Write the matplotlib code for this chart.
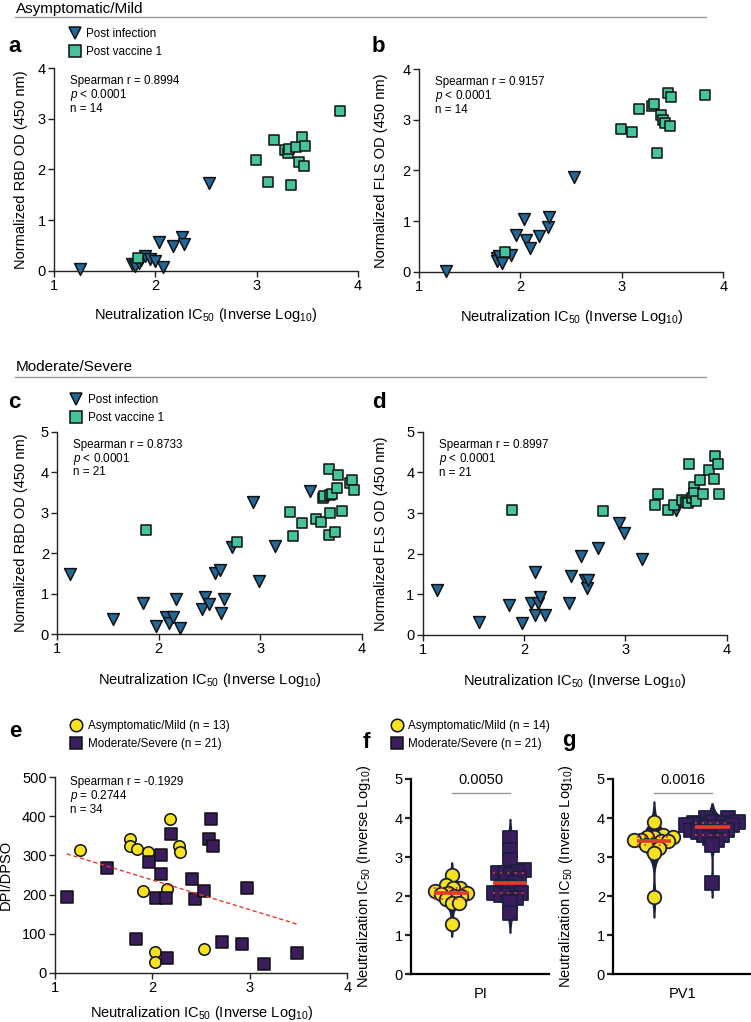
import numpy as np
import matplotlib
matplotlib.use("Agg")
import matplotlib.pyplot as plt
from matplotlib.lines import Line2D

plt.rcParams['font.family'] = ['Liberation Sans', 'DejaVu Sans']
plt.rcParams['mathtext.fontset'] = 'custom'
plt.rcParams['mathtext.rm'] = 'Liberation Sans'
plt.rcParams['mathtext.it'] = 'Liberation Sans:italic'
plt.rcParams['mathtext.bf'] = 'Liberation Sans:bold'
plt.rcParams['mathtext.default'] = 'regular'

# ---- data ----
a_inf_x = [1.26, 1.77, 1.80, 1.84, 1.86, 1.90, 1.95, 2.00, 2.04, 2.08, 2.17, 2.26, 2.28, 2.53]
a_inf_y = [0.03, 0.13, 0.10, 0.16, 0.22, 0.29, 0.24, 0.20, 0.56, 0.08, 0.49, 0.66, 0.53, 1.74]
a_vac_x = [1.83, 2.99, 3.11, 3.17, 3.28, 3.31, 3.32, 3.34, 3.39, 3.42, 3.45, 3.47, 3.48, 3.82]
a_vac_y = [0.26, 2.18, 1.76, 2.58, 2.38, 2.32, 2.41, 1.69, 2.45, 2.15, 2.63, 2.06, 2.46, 3.16]

b_inf_x = [1.27, 1.77, 1.77, 1.79, 1.82, 1.91, 1.96, 2.04, 2.05, 2.09, 2.18, 2.27, 2.28, 2.53]
b_inf_y = [0.02, 0.28, 0.22, 0.32, 0.18, 0.33, 0.73, 1.05, 0.63, 0.47, 0.71, 0.88, 1.08, 1.87]
b_vac_x = [1.85, 2.99, 3.10, 3.17, 3.30, 3.32, 3.35, 3.39, 3.41, 3.43, 3.45, 3.47, 3.48, 3.82]
b_vac_y = [0.38, 2.83, 2.77, 3.22, 3.28, 3.32, 2.34, 3.09, 3.00, 2.94, 3.53, 2.88, 3.45, 3.50]

c_inf_x = [1.13, 1.55, 1.84, 1.97, 2.07, 2.10, 2.14, 2.17, 2.21, 2.43, 2.46, 2.50, 2.55, 2.60, 2.61,
           2.64, 2.72, 2.93, 2.99, 3.15, 3.49]
c_inf_y = [1.48, 0.36, 0.76, 0.20, 0.41, 0.28, 0.41, 0.86, 0.16, 0.61, 0.92, 0.75, 1.51, 1.58, 0.51,
           0.86, 2.14, 3.27, 1.31, 2.18, 3.54]
c_vac_x = [1.87, 2.77, 3.29, 3.32, 3.41, 3.55, 3.60, 3.62, 3.63, 3.68, 3.68, 3.69, 3.69, 3.71, 3.74,
           3.76, 3.77, 3.81, 3.88, 3.90, 3.92]
c_vac_y = [2.58, 2.28, 3.01, 2.42, 2.74, 2.83, 2.77, 3.35, 3.40, 4.09, 2.45, 3.43, 2.98, 3.45, 2.53,
           3.61, 3.94, 3.05, 3.72, 3.80, 3.56]

d_inf_x = [1.14, 1.56, 1.85, 1.98, 2.07, 2.11, 2.11, 2.14, 2.16, 2.21, 2.44, 2.46, 2.56, 2.60, 2.62,
           2.63, 2.73, 2.94, 2.99, 3.16, 3.50]
d_inf_y = [1.10, 0.33, 0.74, 0.29, 0.79, 1.56, 0.49, 0.79, 0.94, 0.49, 0.78, 1.45, 1.95, 1.35, 1.15,
           1.36, 2.15, 2.76, 2.50, 1.87, 3.08]
d_vac_x = [1.88, 2.78, 3.29, 3.32, 3.42, 3.48, 3.56, 3.60, 3.62, 3.63, 3.66, 3.68, 3.68, 3.70, 3.74,
           3.77, 3.83, 3.87, 3.88, 3.91, 3.92]
d_vac_y = [3.08, 3.06, 3.19, 3.47, 3.08, 3.20, 3.33, 3.28, 3.25, 4.21, 3.36, 3.65, 3.49, 3.30, 3.80,
           3.46, 4.06, 3.84, 4.40, 4.21, 3.47]

e_mild_x = [1.26, 1.77, 1.77, 1.84, 1.90, 1.95, 2.03, 2.03, 2.15, 2.18, 2.27, 2.28, 2.53]
e_mild_y = [314, 341, 325, 316, 209, 308, 54, 28, 214, 393, 325, 308, 61]
e_sev_x = [1.12, 1.53, 1.83, 1.96, 2.04, 2.09, 2.09, 2.14, 2.15, 2.19, 2.41, 2.44, 2.53, 2.58, 2.60,
           2.62, 2.71, 2.92, 2.97, 3.14, 3.48]
e_sev_y = [193, 269, 85, 284, 192, 301, 252, 192, 37, 355, 241, 188, 210, 341, 393,
           325, 79, 73, 216, 21, 50]

f_mild = [2.53, 2.28, 2.22, 2.22, 2.13, 2.09, 2.09, 2.05, 2.00, 2.00, 1.92, 1.83, 1.83, 1.30]
f_sev = [3.48, 3.18, 2.93, 2.67, 2.63, 2.59, 2.59, 2.54, 2.46, 2.41, 2.33, 2.24, 2.24, 2.12, 2.07,
         2.07, 2.03, 2.03, 1.95, 1.86, 1.56]
g_mild = [3.91, 3.57, 3.52, 3.52, 3.52, 3.44, 3.44, 3.40, 3.40, 3.31, 3.31, 3.23, 3.10, 1.97]
g_sev = [3.99, 3.99, 3.91, 3.91, 3.87, 3.87, 3.82, 3.82, 3.82, 3.78, 3.78, 3.69, 3.69, 3.65, 3.65,
         3.57, 3.57, 3.48, 3.44, 3.31, 2.35]

stats_ab = ["0.8994", "0.9157"]
stats_cd = ["0.8733", "0.8997"]
pvals_fg = ["0.0050", "0.0016"]
xcats_fg = ["PI", "PV1"]

# ---- styles ----
TRI = '#22699a'
GRN = '#45c39c'
YEL = '#f7e21f'
PUR = '#3b1c5c'
NAVY = '#1b2040'
RED = '#e8392b'
W, H = 751, 1022
XLAB = r'Neutralization IC$_{50}$ (Inverse Log$_{10}$)'
SMALL = 8.4
TICK = 10.5

fig = plt.figure(figsize=(W / 100, H / 100), dpi=100)


def rect(l, r, t, b):
    return [l / W, 1 - b / H, (r - l) / W, (b - t) / H]


def style(ax, lw=1.0):
    for s in ['top', 'right']:
        ax.spines[s].set_visible(False)
    for s in ['left', 'bottom']:
        ax.spines[s].set_linewidth(lw)
        ax.spines[s].set_color('#222222')
    ax.tick_params(labelsize=TICK, length=4, width=lw, pad=2, color='#222222')


def stats(ax, r, p, n, y0=0.935, step=0.068, x0=0.053):
    ax.text(x0, y0, 'Spearman r = ' + r, transform=ax.transAxes, fontsize=SMALL, va='center')
    ax.text(x0, y0 - step, r'$\mathit{p}$ ' + p, transform=ax.transAxes, fontsize=SMALL, va='center')
    ax.text(x0, y0 - 2 * step, 'n = ' + n, transform=ax.transAxes, fontsize=SMALL, va='center')


def corr_panel(r_, xi, yi, xv, yv, ymax, ylab, rtxt, ntxt, xlab_y, ylab_x):
    ax = fig.add_axes(rect(*r_))
    ax.scatter(xi, yi, marker='v', s=72, c=TRI, edgecolors='#111111', linewidths=1.1,
               clip_on=False, zorder=3)
    ax.scatter(xv, yv, marker='s', s=60, c=GRN, edgecolors='#111111', linewidths=1.1,
               clip_on=False, zorder=3)
    ax.set_xlim(1, 4)
    ax.set_ylim(0, ymax)
    ax.set_xticks([1, 2, 3, 4])
    ax.set_yticks(range(0, ymax + 1))
    style(ax)
    ax.set_xlabel(XLAB, fontsize=TICK)
    ax.set_ylabel(ylab, fontsize=TICK)
    ax.xaxis.set_label_coords(0.5, xlab_y)
    ax.yaxis.set_label_coords(ylab_x, 0.5)
    stats(ax, rtxt, '< 0.0001', ntxt)
    return ax


def legend(handles, labels, x, y):
    fig.legend(handles, labels, loc='upper left', bbox_to_anchor=(x / W, 1 - y / H),
               frameon=False, fontsize=SMALL, borderpad=0, borderaxespad=0,
               handlelength=1.0, handletextpad=0.5, labelspacing=0.55)


ax_a = corr_panel((54, 358, 68, 270.7), a_inf_x, a_inf_y, a_vac_x, a_vac_y, 4,
                  'Normalized RBD OD (450 nm)', stats_ab[0], '14', -0.175, -0.086)
ax_b = corr_panel((419, 723.3, 69.3, 271.7), b_inf_x, b_inf_y, b_vac_x, b_vac_y, 4,
                  'Normalized FLS OD (450 nm)', stats_ab[1], '14', -0.178, -0.102)
ax_c = corr_panel((57.3, 361.7, 431.7, 634), c_inf_x, c_inf_y, c_vac_x, c_vac_y, 5,
                  'Normalized RBD OD (450 nm)', stats_cd[0], '21', -0.183, -0.096)
ax_d = corr_panel((422.7, 726.7, 431.7, 635), d_inf_x, d_inf_y, d_vac_x, d_vac_y, 5,
                  'Normalized FLS OD (450 nm)', stats_cd[1], '21', -0.183, -0.114)

h_inf = Line2D([], [], marker='v', ls='', ms=9, mfc=TRI, mec='#111111', mew=1.1)
h_vac = Line2D([], [], marker='s', ls='', ms=8, mfc=GRN, mec='#111111', mew=1.1)
legend([h_inf, h_vac], ['Post infection', 'Post vaccine 1'], 69, 28)
legend([h_inf, h_vac], ['Post infection', 'Post vaccine 1'], 70, 394)

# ---- panel e ----
ax_e = fig.add_axes(rect(55, 347.3, 777.3, 972.7))
ax_e.scatter(e_mild_x, e_mild_y, marker='o', s=68, c=YEL, edgecolors='#111111', linewidths=1.1,
             clip_on=False, zorder=3)
ax_e.scatter(e_sev_x, e_sev_y, marker='s', s=66, c=PUR, edgecolors='#111111', linewidths=1.1,
             clip_on=False, zorder=3)
all_x = np.array(e_mild_x + e_sev_x)
all_y = np.array(e_mild_y + e_sev_y)
k, b0 = np.polyfit(all_x, all_y, 1)
xx = np.array([all_x.min(), all_x.max()])
ax_e.plot(xx, k * xx + b0, color=RED, lw=1.0, dashes=(3, 2), zorder=4)
ax_e.set_xlim(1, 4)
ax_e.set_ylim(0, 500)
ax_e.set_xticks([1, 2, 3, 4])
ax_e.set_yticks(range(0, 501, 100))
style(ax_e)
ax_e.set_xlabel(XLAB, fontsize=TICK)
ax_e.set_ylabel('DPI/DPSO', fontsize=TICK)
ax_e.xaxis.set_label_coords(0.5, -0.158)
ax_e.yaxis.set_label_coords(-0.144, 0.5)
ax_e.text(0.053, 0.975, 'Spearman r = -0.1929', transform=ax_e.transAxes, fontsize=SMALL, va='center')
ax_e.text(0.053, 0.903, r'$\mathit{p}$ = 0.2744', transform=ax_e.transAxes, fontsize=SMALL, va='center')
ax_e.text(0.053, 0.831, 'n = 34', transform=ax_e.transAxes, fontsize=SMALL, va='center')

h_mild = Line2D([], [], marker='o', ls='', ms=9, mfc=YEL, mec='#111111', mew=1.1)
h_sev = Line2D([], [], marker='s', ls='', ms=8.5, mfc=PUR, mec='#111111', mew=1.1)
legend([h_mild, h_sev], ['Asymptomatic/Mild (n = 13)', 'Moderate/Severe (n = 21)'], 70, 720)
legend([h_mild, h_sev], ['Asymptomatic/Mild (n = 14)', 'Moderate/Severe (n = 21)'], 391, 720)


# ---- panels f, g ----
def swarm(vals, d, ypx, xpx):
    vals = np.asarray(vals, float)
    placed = []
    offs = np.zeros(len(vals))
    for i in np.argsort(vals):
        y = vals[i] * ypx
        cands = [0.0]
        for py, px in placed:
            dy = y - py
            if abs(dy) < d:
                h = np.sqrt(d * d - dy * dy)
                cands += [px + h, px - h]
        cands.sort(key=abs)
        for c in cands:
            if all((c - px) ** 2 + (y - py) ** 2 >= d * d - 1e-6 for py, px in placed):
                break
        placed.append((y, c))
        offs[i] = c / xpx
    return offs


def violin(ax, vals, pos, half_w):
    v = np.asarray(vals, float)
    bw = v.std(ddof=1) * len(v) ** (-0.2)
    grid = np.linspace(v.min() - 2 * bw, v.max() + 2 * bw, 300)
    dens = np.exp(-0.5 * ((grid[:, None] - v[None, :]) / bw) ** 2).sum(1)
    dens = dens / dens.max() * half_w
    ax.fill_betweenx(grid, pos - dens, pos + dens, color=NAVY, lw=1.2, zorder=1)


def violin_panel(r_, mild, sev, ptxt, cat, ylab_x):
    ax = fig.add_axes(rect(*r_))
    xpx = (r_[1] - r_[0]) / 2.37
    ypx = (r_[3] - r_[2]) / 5
    for pos, vals, mk, col in [(0, mild, 'o', YEL), (1, sev, 's', PUR)]:
        violin(ax, vals, pos, 0.22)
        off = swarm(vals, 7.0, ypx, xpx)
        ax.scatter(pos + off, vals, marker=mk, s=95 if mk == 'o' else 90, c=col,
                   edgecolors=NAVY, linewidths=1.3, zorder=3, clip_on=False)
        q1, med, q3 = np.percentile(vals, [25, 50, 75])
        ax.hlines(med, pos - 0.3, pos + 0.3, color=RED, lw=2.6, zorder=5)
        ax.hlines([q1, q3], pos - 0.3, pos + 0.3, color=RED, lw=1.3, linestyles=(0, (1, 3)), zorder=5)
    ax.plot([0, 1], [4.65, 4.65], color='#9a9a9a', lw=1.0)
    ax.text(0.5, 4.98, ptxt, ha='center', va='center', fontsize=TICK)
    ax.set_xlim(-0.7, 1.67)
    ax.set_ylim(0, 5)
    ax.set_yticks(range(0, 6))
    ax.set_xticks([0.5])
    ax.set_xticklabels([cat])
    style(ax, lw=1.6)
    ax.spines['left'].set_color('black')
    ax.spines['bottom'].set_color('black')
    ax.tick_params(axis='x', length=0, pad=9)
    ax.set_ylabel(XLAB, fontsize=TICK)
    ax.yaxis.set_label_coords(ylab_x, 0.5)
    return ax


ax_f = violin_panel((411, 549, 779, 974.3), f_mild, f_sev, pvals_fg[0], xcats_fg[0], -0.275)
ax_g = violin_panel((613.3, 751, 779, 974.3), g_mild, g_sev, pvals_fg[1], xcats_fg[1], -0.278)

# ---- headers and panel letters ----
fig.text(16 / W, 1 - 12.5 / H, 'Asymptomatic/Mild', fontsize=11, va='baseline')
fig.text(16 / W, 1 - 371 / H, 'Moderate/Severe', fontsize=11, va='baseline')
for y in [17.3, 377.3]:
    fig.add_artist(Line2D([15 / W, 706 / W], [1 - y / H, 1 - y / H], color='#9a9a9a', lw=1.0))

for lt, x, y in [('a', 8, 51.7), ('b', 372, 51.7), ('c', 8, 408), ('d', 372, 408),
                 ('e', 9, 737), ('f', 363, 748), ('g', 562, 746)]:
    fig.text(x / W, 1 - y / H, lt, fontsize=16, fontweight='bold', va='baseline')

fig.savefig('out.png', dpi=100)
